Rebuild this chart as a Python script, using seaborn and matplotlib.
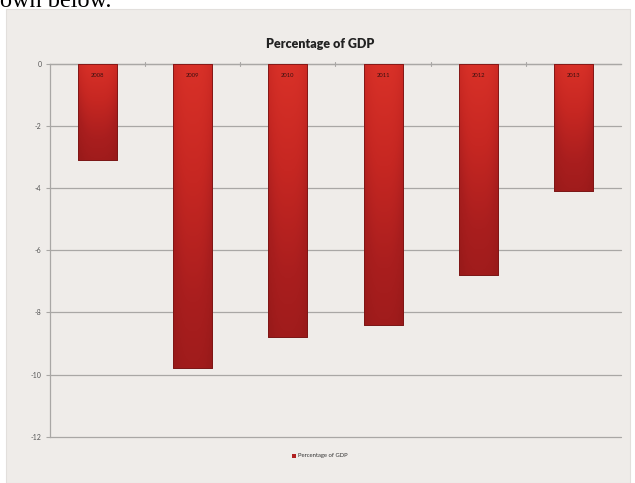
import numpy as np
import pandas as pd
import matplotlib
matplotlib.use("Agg")
import matplotlib.pyplot as plt
from matplotlib.patches import Rectangle
from matplotlib.colors import LinearSegmentedColormap
import seaborn as sns

# Budget balance as a share of GDP
years = ["2008", "2009", "2010", "2011", "2012", "2013"]
pct_gdp = [-3.1, -9.8, -8.8, -8.4, -6.8, -4.1]
y_ticks = [0, -2, -4, -6, -8, -10, -12]
title = "Percentage of GDP"
series_name = "Percentage of GDP"

df = pd.DataFrame({"year": years, "pct": pct_gdp})

sns.set_theme(style="white")
plt.rcParams["font.family"] = ["Lato", "DejaVu Sans"]

W, H = 635, 483
fig = plt.figure(figsize=(W / 100, H / 100), dpi=100, facecolor="white")

# chart panel
panel_bg = "#efece9"
fig.patches.append(Rectangle((6 / W, 0), 624 / W, (H - 9) / H,
                             transform=fig.transFigure, facecolor=panel_bg,
                             edgecolor="#e2dfdc", linewidth=0.8, zorder=-5))

# fragment of surrounding document text
fig.text(0.0, 1 - 7 / H, "own below.", family="Liberation Serif",
         fontsize=17.5, color="black", va="baseline", ha="left")

ax = fig.add_axes([50 / W, (H - 436.7) / H, 571 / W, (436.7 - 64) / H])
ax.set_zorder(2)
ax.set_facecolor(panel_bg)

sns.barplot(data=df, x="year", y="pct", ax=ax, color="#c62824",
            width=0.41, saturation=1, edgecolor="#7a1616", linewidth=0.6,
            zorder=3)

ax.set_ylim(-12, 0)
ax.set_xlim(-0.5, len(years) - 0.5)
ax.set_yticks(y_ticks)
ax.set_yticklabels([str(t) for t in y_ticks], fontsize=5, color="#555555")
ax.set_xlabel("")
ax.set_ylabel("")
ax.set_xticks([])

# gridlines
for t in y_ticks:
    ax.axhline(t, color="#a9a7a5", lw=0.9, zorder=1, clip_on=False)

for side in ["right", "bottom"]:
    ax.spines[side].set_visible(False)
ax.spines["left"].set_color("#a9a7a5")
ax.spines["left"].set_linewidth(0.9)
ax.spines["top"].set_color("#a9a7a5")
ax.spines["top"].set_linewidth(0.9)
ax.tick_params(axis="y", length=3, width=0.8, color="#a9a7a5", pad=3,
               direction="out", left=True)

# category boundary tick marks on the zero line
for b in np.arange(0.5, len(years) - 0.5, 1.0):
    ax.plot([b, b], [0.06, -0.06], color="#a9a7a5", lw=0.8, zorder=2,
            clip_on=False)

# shaded fill for each bar
cmap = LinearSegmentedColormap.from_list(
    "barshade", ["#d93128", "#c62722", "#a91e1e", "#991a1a"])
grad_v = np.linspace(0, 1, 256)[:, None]
grad_h = np.abs(np.linspace(-1, 1, 64))[None, :]
shade = np.clip(grad_v * 0.85 + grad_h ** 3 * 0.25, 0, 1)
for patch, lab in zip(ax.patches, years):
    x0, y0 = patch.get_x(), patch.get_y()
    w, h = patch.get_width(), patch.get_height()
    top, bottom = max(y0, y0 + h), min(y0, y0 + h)
    im = ax.imshow(shade, cmap=cmap, vmin=0, vmax=1, aspect="auto",
                   extent=[x0, x0 + w, bottom, top], origin="upper",
                   zorder=3.5, interpolation="bilinear")
    im.set_clip_path(patch)
    ax.add_patch(Rectangle((x0, bottom), w, top - bottom, fill=False,
                           edgecolor="#7a1616", lw=0.6, zorder=4))
    ax.text(x0 + w / 2, top - 0.38, lab, ha="center", va="center",
            fontsize=4.2, color="#3a1010", zorder=5)
ax.set_xlim(-0.5, len(years) - 0.5)
ax.set_ylim(-12, 0)

fig.text(320 / W, 1 - 44 / H, title, ha="center", va="center",
         fontsize=9, fontweight="heavy", color="#222222")

# legend
fig.patches.append(Rectangle((292 / W, (H - 457.5) / H), 4 / W, 4 / H,
                             transform=fig.transFigure, facecolor="#b02020",
                             edgecolor="none", zorder=5))
fig.text(298 / W, (H - 455.5) / H, series_name, ha="left", va="center",
         fontsize=4.2, color="#333333")

fig.savefig("out.png", dpi=100, facecolor="white")
